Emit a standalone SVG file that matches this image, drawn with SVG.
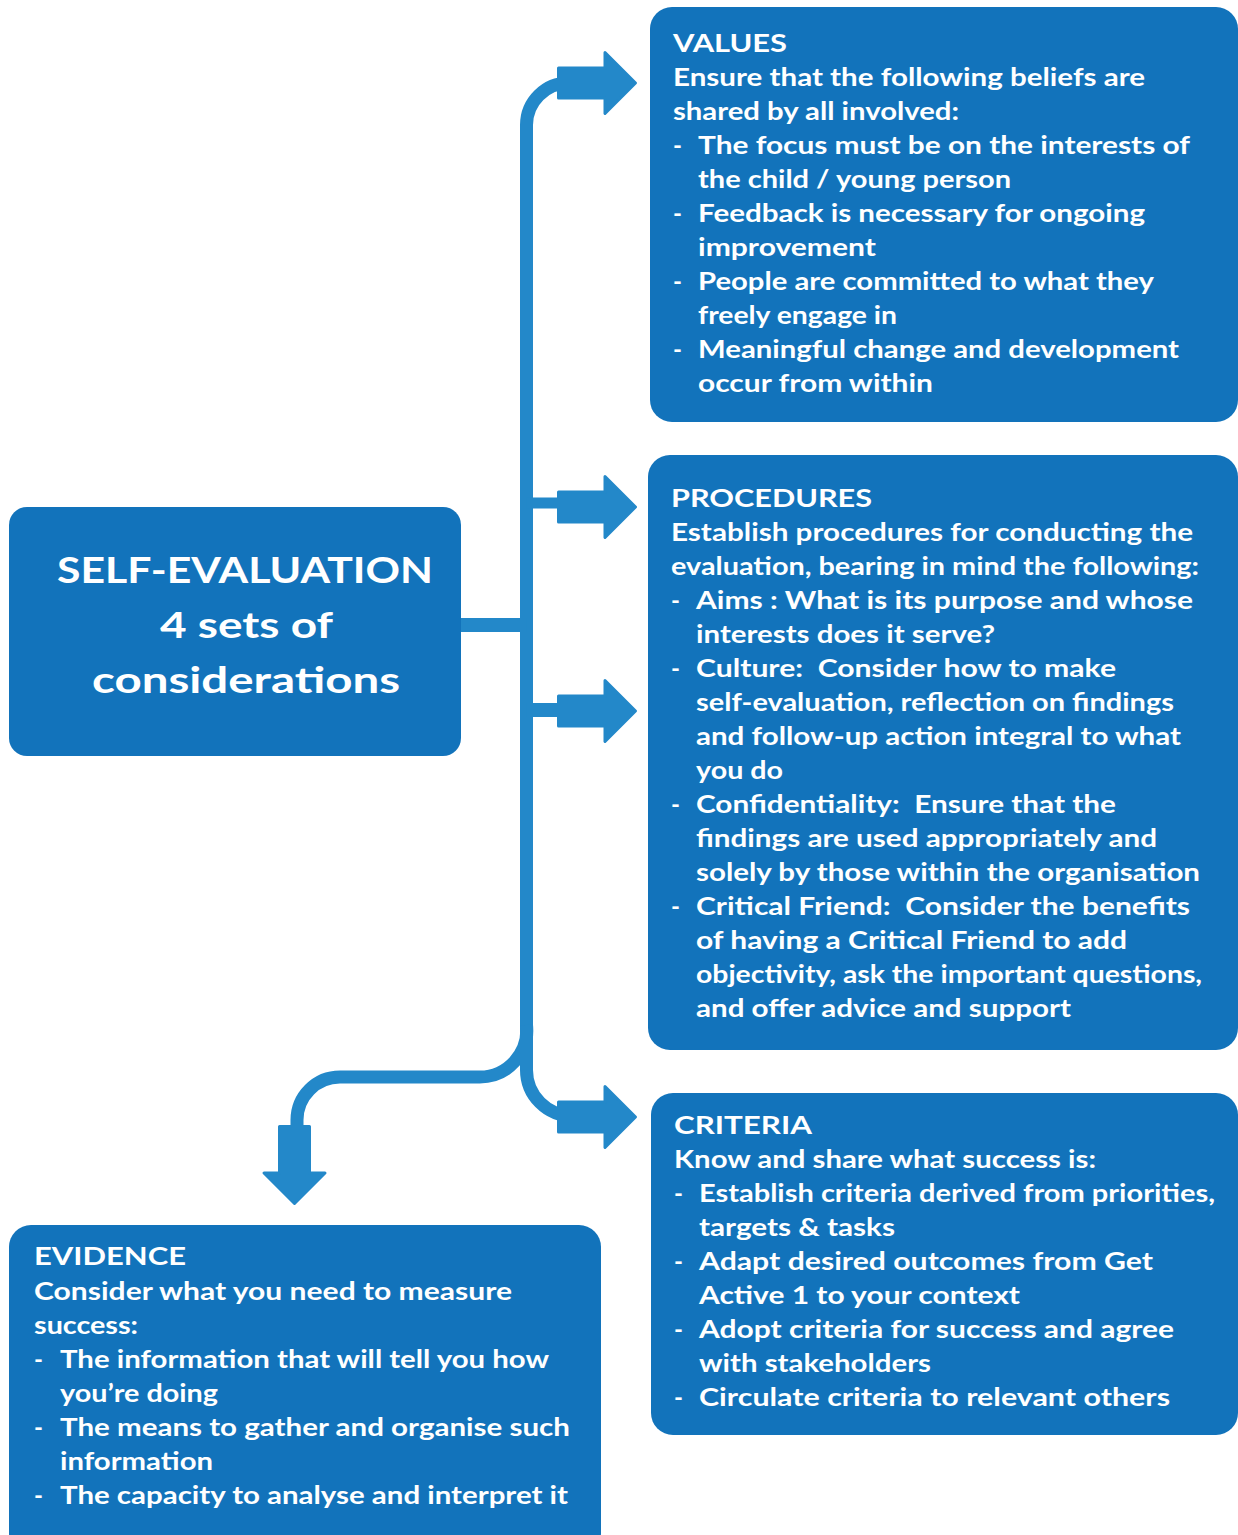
<svg xmlns="http://www.w3.org/2000/svg" width="1238" height="1535" viewBox="0 0 1238 1535">
<style>
.box{fill:#1273bb}
.con{fill:none;stroke:#2388c9;stroke-width:13}
.arr{fill:#2388c9;stroke:#2388c9;stroke-width:3;stroke-linejoin:round}
.t{font-family:Lato,"Open Sans","Liberation Sans",sans-serif;font-weight:bold;font-size:24px;fill:#fff;white-space:pre}
.h{font-family:Lato,"Open Sans","Liberation Sans",sans-serif;font-weight:bold;font-size:36px;fill:#fff;text-anchor:middle}
</style>
<defs>
<path id="ra" class="arr" d="M1.5,-15 H48 V-30.5 L78.5,0 L48,30.5 V15 H1.5 Z"/>
</defs>
<g id="connectors">
<path class="con" d="M526.5,1040 V125 A42,42 0 0 1 568.5,83"/>
<path class="con" style="stroke-width:11" d="M526.5,503 H565"/>
<path class="con" style="stroke-width:14" d="M455,625 H526.5"/>
<path class="con" style="stroke-width:14" d="M526.5,710 H565"/>
<path class="con" d="M526.5,1025 A47,47 0 0 1 479.5,1077 H340 A43,43 0 0 0 297,1120 V1135"/>
<path class="con" d="M526.5,1030 V1070 A46,46 0 0 0 572.5,1116"/>
<use href="#ra" transform="translate(557,83)"/>
<use href="#ra" transform="translate(557,507)"/>
<use href="#ra" transform="translate(557,711)"/>
<use href="#ra" transform="translate(557,1117)"/>
<use href="#ra" transform="translate(294.5,1125) rotate(90)"/>
</g>
<g id="center">
<rect class="box" x="9" y="507" width="452" height="249" rx="18"/>
<text class="h" x="245" y="583" textLength="376" lengthAdjust="spacingAndGlyphs">SELF-EVALUATION</text>
<text class="h" x="246.5" y="638" textLength="173" lengthAdjust="spacingAndGlyphs">4 sets of</text>
<text class="h" x="246" y="693" textLength="308" lengthAdjust="spacingAndGlyphs">considerations</text>
</g>
<g id="values">
<rect class="box" x="650" y="7" width="588" height="415" rx="22"/>
<text class="t" x="673" y="52" textLength="114" lengthAdjust="spacingAndGlyphs">VALUES</text>
<text class="t" x="673" y="86" textLength="472" lengthAdjust="spacingAndGlyphs">Ensure that the following beliefs are</text>
<text class="t" x="673" y="120" textLength="286" lengthAdjust="spacingAndGlyphs">shared by all involved:</text>
<text class="t" x="673" y="154">-</text>
<text class="t" x="698" y="154" textLength="492" lengthAdjust="spacingAndGlyphs">The focus must be on the interests of</text>
<text class="t" x="698" y="188" textLength="313" lengthAdjust="spacingAndGlyphs">the child / young person</text>
<text class="t" x="673" y="222">-</text>
<text class="t" x="698" y="222" textLength="447" lengthAdjust="spacingAndGlyphs">Feedback is necessary for ongoing</text>
<text class="t" x="698" y="256" textLength="178" lengthAdjust="spacingAndGlyphs">improvement</text>
<text class="t" x="673" y="290">-</text>
<text class="t" x="698" y="290" textLength="456" lengthAdjust="spacingAndGlyphs">People are committed to what they</text>
<text class="t" x="698" y="324" textLength="199" lengthAdjust="spacingAndGlyphs">freely engage in</text>
<text class="t" x="673" y="358">-</text>
<text class="t" x="698" y="358" textLength="481" lengthAdjust="spacingAndGlyphs">Meaningful change and development</text>
<text class="t" x="698" y="392" textLength="235" lengthAdjust="spacingAndGlyphs">occur from within</text>
</g>
<g id="procedures">
<rect class="box" x="648" y="455" width="590" height="595" rx="22"/>
<text class="t" x="671" y="507" textLength="201" lengthAdjust="spacingAndGlyphs">PROCEDURES</text>
<text class="t" x="671" y="541" textLength="522" lengthAdjust="spacingAndGlyphs">Establish procedures for conducting the</text>
<text class="t" x="671" y="575" textLength="528" lengthAdjust="spacingAndGlyphs">evaluation, bearing in mind the following:</text>
<text class="t" x="671" y="609">-</text>
<text class="t" x="696" y="609" textLength="497" lengthAdjust="spacingAndGlyphs">Aims : What is its purpose and whose</text>
<text class="t" x="696" y="643" textLength="299" lengthAdjust="spacingAndGlyphs">interests does it serve?</text>
<text class="t" x="671" y="677">-</text>
<text class="t" x="696" y="677" textLength="420" lengthAdjust="spacingAndGlyphs">Culture:  Consider how to make</text>
<text class="t" x="696" y="711" textLength="478" lengthAdjust="spacingAndGlyphs">self-evaluation, reflection on findings</text>
<text class="t" x="696" y="745" textLength="485" lengthAdjust="spacingAndGlyphs">and follow-up action integral to what</text>
<text class="t" x="696" y="779" textLength="87" lengthAdjust="spacingAndGlyphs">you do</text>
<text class="t" x="671" y="813">-</text>
<text class="t" x="696" y="813" textLength="420" lengthAdjust="spacingAndGlyphs">Confidentiality:  Ensure that the</text>
<text class="t" x="696" y="847" textLength="461" lengthAdjust="spacingAndGlyphs">findings are used appropriately and</text>
<text class="t" x="696" y="881" textLength="504" lengthAdjust="spacingAndGlyphs">solely by those within the organisation</text>
<text class="t" x="671" y="915">-</text>
<text class="t" x="696" y="915" textLength="494" lengthAdjust="spacingAndGlyphs">Critical Friend:  Consider the benefits</text>
<text class="t" x="696" y="949" textLength="431" lengthAdjust="spacingAndGlyphs">of having a Critical Friend to add</text>
<text class="t" x="696" y="983" textLength="506" lengthAdjust="spacingAndGlyphs">objectivity, ask the important questions,</text>
<text class="t" x="696" y="1017" textLength="375" lengthAdjust="spacingAndGlyphs">and offer advice and support</text>
</g>
<g id="criteria">
<rect class="box" x="651" y="1093" width="587" height="342" rx="22"/>
<text class="t" x="674" y="1134" textLength="138" lengthAdjust="spacingAndGlyphs">CRITERIA</text>
<text class="t" x="674" y="1168" textLength="422" lengthAdjust="spacingAndGlyphs">Know and share what success is:</text>
<text class="t" x="674" y="1202">-</text>
<text class="t" x="699" y="1202" textLength="516" lengthAdjust="spacingAndGlyphs">Establish criteria derived from priorities,</text>
<text class="t" x="699" y="1236" textLength="196" lengthAdjust="spacingAndGlyphs">targets &amp; tasks</text>
<text class="t" x="674" y="1270">-</text>
<text class="t" x="699" y="1270" textLength="454" lengthAdjust="spacingAndGlyphs">Adapt desired outcomes from Get</text>
<text class="t" x="699" y="1304" textLength="321" lengthAdjust="spacingAndGlyphs">Active 1 to your context</text>
<text class="t" x="674" y="1338">-</text>
<text class="t" x="699" y="1338" textLength="475" lengthAdjust="spacingAndGlyphs">Adopt criteria for success and agree</text>
<text class="t" x="699" y="1372" textLength="232" lengthAdjust="spacingAndGlyphs">with stakeholders</text>
<text class="t" x="674" y="1406">-</text>
<text class="t" x="699" y="1406" textLength="471" lengthAdjust="spacingAndGlyphs">Circulate criteria to relevant others</text>
</g>
<g id="evidence">
<rect class="box" x="9" y="1225" width="592" height="330" rx="22"/>
<text class="t" x="34" y="1265" textLength="152" lengthAdjust="spacingAndGlyphs">EVIDENCE</text>
<text class="t" x="34" y="1300" textLength="478" lengthAdjust="spacingAndGlyphs">Consider what you need to measure</text>
<text class="t" x="34" y="1334" textLength="104" lengthAdjust="spacingAndGlyphs">success:</text>
<text class="t" x="34" y="1368">-</text>
<text class="t" x="60" y="1368" textLength="489" lengthAdjust="spacingAndGlyphs">The information that will tell you how</text>
<text class="t" x="60" y="1402" textLength="158" lengthAdjust="spacingAndGlyphs">you’re doing</text>
<text class="t" x="34" y="1436">-</text>
<text class="t" x="60" y="1436" textLength="510" lengthAdjust="spacingAndGlyphs">The means to gather and organise such</text>
<text class="t" x="60" y="1470" textLength="153" lengthAdjust="spacingAndGlyphs">information</text>
<text class="t" x="34" y="1504">-</text>
<text class="t" x="60" y="1504" textLength="508" lengthAdjust="spacingAndGlyphs">The capacity to analyse and interpret it</text>
</g>
</svg>
